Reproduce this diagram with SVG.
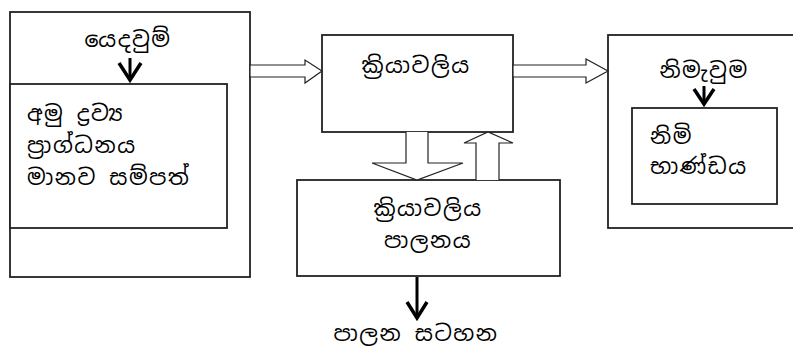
<svg xmlns="http://www.w3.org/2000/svg" width="793" height="350" viewBox="0 0 793 350">
<defs>
<style>
.box{fill:#fff;stroke:#222;stroke-width:1.8}
.hollow{fill:#fff;stroke:#222;stroke-width:1.2}
.line{fill:none;stroke:#000;stroke-width:3}
.head{fill:none;stroke:#000;stroke-width:3.5;stroke-linejoin:miter}
text{font-family:"Noto Sans Sinhala","Noto Sans","DejaVu Sans",sans-serif;font-size:22px;letter-spacing:1.5px;fill:#000}
.c{text-anchor:middle}
</style>
</defs>
<rect width="793" height="350" fill="#fff"/>
<g id="input">
<rect class="box" x="10" y="12" width="240" height="265"/>
<text class="c" x="128" y="47">යෙදවුම්</text>
</g>
<g id="input-items">
<rect class="box" x="10" y="84" width="217" height="144"/>
<text x="27" y="121">අමු ද්‍රව්‍ය</text>
<text x="27" y="153">ප්‍රාග්ධනය</text>
<text x="27" y="185">මානව සම්පත්</text>
</g>
<g id="process">
<rect class="box" x="322" y="35" width="191" height="97"/>
<text class="c" x="416" y="73">ක්‍රියාවලිය</text>
</g>
<g id="control">
<rect class="box" x="297" y="180" width="263" height="96"/>
<text class="c" x="428" y="216">ක්‍රියාවලිය</text>
<text class="c" x="428" y="248">පාලනය</text>
</g>
<g id="output">
<rect class="box" x="608" y="35" width="200" height="193"/>
<text class="c" x="704" y="78">නිමැවුම</text>
</g>
<g id="output-items">
<rect class="box" x="632" y="108" width="145" height="96"/>
<text x="650" y="144">නිමි</text>
<text x="650" y="174">භාණ්ඩය</text>
</g>
<g id="control-chart-label">
<text class="c" x="416" y="341">පාලන සටහන</text>
</g>
<g id="connectors">
<path class="hollow" d="M250,65 H305 V60 L322,71 L305,83 V77 H250 Z"/>
<path class="hollow" d="M513,65 H586 V59 L608,71 L586,83 V77 H513 Z"/>
<path class="hollow" d="M406,132 V163 H372 L417,180 L463,163 H428 V132"/>
<path class="hollow" d="M476,180 V143 H464 L488,132 L513,143 H499 V180"/>
<line class="line" x1="130" y1="58" x2="130" y2="80"/>
<path class="head" d="M119,63 L130,80 L141,63"/>
<line class="line" x1="704" y1="86" x2="704" y2="104"/>
<path class="head" d="M694,89 L704,104 L714,89"/>
<line class="line" x1="417" y1="277" x2="417" y2="318"/>
<path class="head" d="M407,302 L417,318 L427,302"/>
</g>
</svg>
